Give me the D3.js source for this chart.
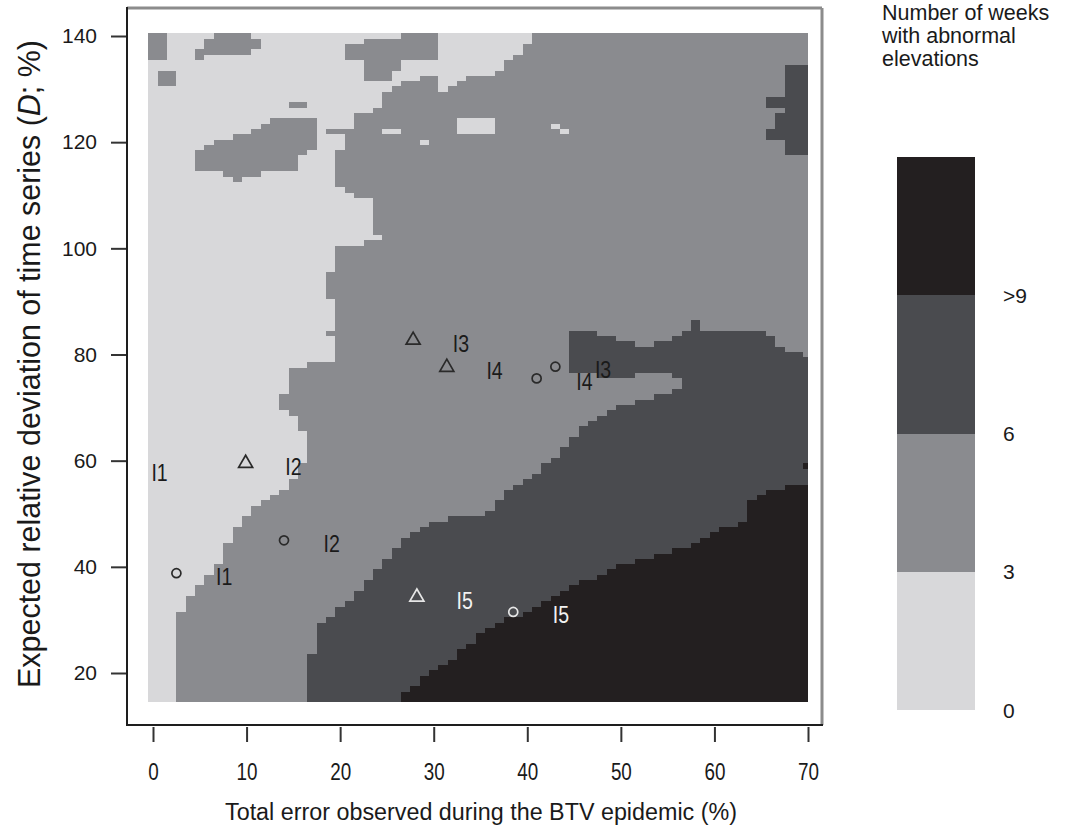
<!DOCTYPE html>
<html>
<head>
<meta charset="utf-8">
<script src="https://cdn.jsdelivr.net/npm/d3@7"></script>
<style>
  body { margin: 0; background: #fff; }
  svg { display: block; }
  text { font-family: "Liberation Sans", Arial, Helvetica, sans-serif; fill: #1a1a1a; }
</style>
</head>
<body>
<svg id="chart" width="1078" height="830"></svg>
<script>
// ---- axis ticks and grid -------------------------------------------------
const xTicks = [0, 10, 20, 30, 40, 50, 60, 70];
const yTicks = [20, 40, 60, 80, 100, 120, 140];
const columnCentres = d3.range(0, 71);   // total error, %  (cells 1 unit wide)
const rowCentres = d3.range(15, 141);    // expected deviation D, % (cells 1 unit tall)

// ---- legend ---------------------------------------------------------------
const levels = [0, 1, 2, 3];
const legendLabels = ["0", "3", "6", ">9"];

// ---- region outlines (data units: [total error, D]) -----------------------
// everything inside has at least 3 weeks with abnormal elevations
const level1Outline = [
  [2.6,14],[2.6,31],[3.6,33],[4.5,35.3],[5.7,37.5],[7.5,42],[8.5,46],[9.7,49.4],
  [11.1,51.3],[12.5,52.6],[14.3,55.1],[15.4,57.6],[16.2,60.7],[16.2,65.1],[15.5,67],
  [14.6,68.9],[13.6,69.5],[14.4,75.2],[14.6,77],[17.5,78.3],[20,78.9],[20,81.4],
  [18.9,83.3],[19.3,89.6],[18.6,90.8],[18.5,94],[19.3,96.5],[19.4,100.3],[24.6,101.6],
  [23.4,102.8],[23.2,109.1],[20.7,110.4],[19.4,111.6],[19.4,117.3],[20.3,118.5],
  [20.3,121],[18.5,121.7],[18.5,122.6],[21.8,122.9],[21.8,125.7],[24.6,126.1],
  [24.6,129.2],[26,130.5],[27.1,131.1],[28.5,132],[29.6,132.7],[30.3,131.7],
  [30.7,129.2],[32.4,130.5],[33.4,131.4],[34.6,132.7],[36.4,132.3],[37.4,134.2],
  [38.5,136.1],[39.6,138],[40.6,139.9],[41.4,141],[71,141],[71,14]
];
// isolated 3-6 week patches inside the 0-3 zone
const level1Patches = [
  [[-0.6,135.5],[1.5,135.5],[1.5,141],[-0.6,141]],
  [[0.5,130.5],[2.5,130.5],[2.5,133.5],[0.5,133.5]],
  [[6.5,141],[10.5,141],[10.5,139.5],[11.5,139.5],[11.5,137.5],[10.5,137.5],[10.5,136.5],
   [5.5,136.5],[5.5,135.5],[4.5,135.5],[4.5,137.5],[5.5,137.5],[5.5,139.5],[6.5,139.5]],
  [[26.5,141],[30.5,141],[30.5,135.5],[26.5,135.5],[26.5,133.5],[25.5,133.5],[25.5,131.5],
   [22.5,131.5],[22.5,135.5],[20.5,135.5],[20.5,138.5],[22.5,138.5],[22.5,139.5],[26.5,139.5]],
  [[12.5,124.5],[17.5,124.5],[17.5,118.5],[16.5,118.5],[16.5,117.5],[15.5,117.5],[15.5,114.5],
   [11.5,114.5],[11.5,113.5],[9.5,113.5],[9.5,112.5],[8.5,112.5],[8.5,113.5],[7.5,113.5],
   [7.5,114.5],[4.5,114.5],[4.5,118.5],[5.5,118.5],[5.5,119.5],[6.5,119.5],[6.5,120.5],
   [8.5,120.5],[8.5,121.5],[10.5,121.5],[10.5,122.5],[11.5,122.5],[11.5,123.5],[12.5,123.5]],
  [[14.5,126.5],[16.5,126.5],[16.5,127.5],[14.5,127.5]]
];
// isolated 0-3 week cells inside the 3-6 zone
const level0Patches = [
  [[24.5,121.5],[26.5,121.5],[26.5,122.5],[24.5,122.5]],
  [[28.5,119.5],[29.5,119.5],[29.5,120.5],[28.5,120.5]],
  [[32.5,121.5],[36.5,121.5],[36.5,124.5],[32.5,124.5]],
  [[42.5,122.5],[43.5,122.5],[43.5,123.5],[42.5,123.5]],
  [[43.5,121.5],[44.5,121.5],[44.5,122.5],[43.5,122.5]]
];
// 6-9 weeks
const level2Outline = [
  [16.3,14],[16.3,22.5],[17.3,23.7],[17.5,28],[18.5,30],[19.3,31.2],[20.5,33],[21.8,35],
  [23,37.5],[24.6,41.3],[26.4,43.5],[27.1,45.7],[28.5,47],[30.3,48.8],[33,49.2],[35,49.6],
  [36,50.7],[37.2,53],[38.5,55.1],[40,56.5],[41.7,58.6],[43.2,61],[44.6,63.3],[45.3,65.8],
  [47,67.7],[48.5,68.9],[50,70.2],[52,71],[54,72],[56.3,73.3],[56.6,75.6],[53.5,76.6],
  [50.5,75.6],[48.6,75.4],[46.6,76.4],[44.4,76.4],[44.4,84.6],[46.4,84.6],[48.6,83.6],
  [50.4,82.6],[52.6,81.6],[55.4,82.4],[57.4,84.4],[57.4,86.6],[58.4,86.6],[58.4,84.4],
  [65.5,84.4],[66.4,82.7],[68,80.8],[70,79.3],[71,79],[71,14]
];
const level2Patches = [
  [[67.5,134.5],[71,134.5],[71,117.5],[67.5,117.5],[67.5,120.5],[65.5,120.5],[65.5,122.5],
   [66.5,122.5],[66.5,125.5],[67.5,125.5],[67.5,126.5],[65.5,126.5],[65.5,128.5],[67.5,128.5]]
];
// more than 9 weeks
const level3Outline = [
  [26.4,14],[26.4,16],[27.5,17],[28.5,18.5],[30,20],[31,21.5],[32,22.5],[33,24],[34,25.5],
  [35,27],[36,28.1],[38,30],[40,31.5],[42.4,33.7],[44,35.5],[46,37.2],[48,38.5],[50,40],
  [51.3,41],[54.2,42.6],[57,43.8],[58.5,44.5],[59.9,46.3],[61.5,47.5],[63,48.8],[63.6,51],
  [64.1,53.2],[66,54],[68,55],[70,55.8],[71,56],[71,14]
];
const level3Patches = [
  [[69.5,58.5],[71,58.5],[71,59.5],[69.5,59.5]]
];

// ---- surveillance scenarios ---------------------------------------------
const triangleIds = ["I1", "I2", "I3", "I4", "I5"];
const triangleX = [-4.4, 9.9, 27.8, 31.4, 28.2];
const triangleY = [58.4, 59.5, 82.7, 77.6, 34.3];
const circleIds = ["I1", "I2", "I4", "I3", "I5"];
const circleX = [2.5, 14.0, 41.0, 43.0, 38.5];
const circleY = [38.8, 45.0, 75.5, 77.7, 31.5];

// ---- styling ---------------------------------------------------------------
const levelColours = ["#d8d8da", "#8a8b8f", "#4a4b4f", "#231f20"];
const frame = { left: 127, right: 822, top: 8, bottom: 725 };
const labelShift = [5.1, -0.6];   // scenario label offset from its marker, data units

const svg = d3.select("#chart");
const x = d3.scaleLinear().domain([0, 70]).range([153, 808]);
const y = d3.scaleLinear().domain([20, 140]).range([673, 36]);

function levelAt(px, py) {
  const p = [px, py];
  const inside = poly => d3.polygonContains(poly, p);
  let lv = 0;
  if (inside(level1Outline)) lv = 1;
  if (level1Patches.some(inside)) lv = 1;
  if (level0Patches.some(inside)) lv = 0;
  if (inside(level2Outline)) lv = 2;
  if (level2Patches.some(inside)) lv = 2;
  if (inside(level3Outline)) lv = 3;
  if (level3Patches.some(inside)) lv = 3;
  return lv;
}

// ---- raster: merge each row into runs of equal level ----------------------
const runs = [];
rowCentres.forEach(r => {
  let start = columnCentres[0], cur = levelAt(start, r);
  for (let i = 1; i <= columnCentres.length; i++) {
    const c = columnCentres[i];
    const lv = i < columnCentres.length ? levelAt(c, r) : -1;
    if (lv !== cur) {
      runs.push({ x0: start - 0.5, x1: Math.min(columnCentres[i - 1] + 0.5, 70), row: r, level: cur });
      start = c; cur = lv;
    }
  }
});

svg.append("g").attr("shape-rendering", "crispEdges")
  .selectAll("rect").data(runs).join("rect")
  .attr("x", d => Math.round(x(d.x0)))
  .attr("width", d => Math.round(x(d.x1)) - Math.round(x(d.x0)))
  .attr("y", d => Math.round(y(d.row + 0.5)))
  .attr("height", d => Math.round(y(d.row - 0.5)) - Math.round(y(d.row + 0.5)))
  .attr("fill", d => levelColours[d.level]);

// ---- frame ----------------------------------------------------------------
const fr = svg.append("g").attr("fill", "none");
fr.append("line").attr("x1", frame.left).attr("x2", frame.right).attr("y1", frame.top).attr("y2", frame.top)
  .attr("stroke", "#8c8c8c").attr("stroke-width", 3);
fr.append("line").attr("x1", frame.right).attr("x2", frame.right).attr("y1", frame.top).attr("y2", frame.bottom)
  .attr("stroke", "#8c8c8c").attr("stroke-width", 3);
fr.append("line").attr("x1", frame.left).attr("x2", frame.left).attr("y1", frame.top - 1).attr("y2", frame.bottom + 1)
  .attr("stroke", "#1e1e1e").attr("stroke-width", 2);
fr.append("line").attr("x1", frame.left - 1).attr("x2", frame.right + 1).attr("y1", frame.bottom).attr("y2", frame.bottom)
  .attr("stroke", "#1e1e1e").attr("stroke-width", 2);

// ---- axes -----------------------------------------------------------------
const xAxis = svg.append("g").attr("transform", `translate(0,${frame.bottom + 2})`)
  .call(d3.axisBottom(x).tickValues(xTicks).tickSize(15).tickPadding(22).tickFormat(d3.format("d")));
xAxis.select(".domain").remove();
xAxis.selectAll(".tick line").attr("stroke", "#333").attr("stroke-width", 2);
xAxis.selectAll(".tick text").attr("font-size", 23).attr("fill", "#1a1a1a")
  .attr("font-family", "'Liberation Sans', Arial, sans-serif")
  .attr("transform", "scale(0.82,1)")
  .attr("x", 0);

const yAxis = svg.append("g").attr("transform", `translate(${frame.left - 1},0)`)
  .call(d3.axisLeft(y).tickValues(yTicks).tickSize(15).tickPadding(14).tickFormat(d3.format("d")));
yAxis.select(".domain").remove();
yAxis.selectAll(".tick line").attr("stroke", "#333").attr("stroke-width", 2);
yAxis.selectAll(".tick text").attr("font-size", 21).attr("fill", "#1a1a1a")
  .attr("font-family", "'Liberation Sans', Arial, sans-serif");

// axis titles
svg.append("text")
  .attr("x", 481).attr("y", 820).attr("text-anchor", "middle")
  .attr("font-size", 23).attr("textLength", 512).attr("lengthAdjust", "spacingAndGlyphs")
  .text("Total error observed during the BTV epidemic (%)");

const yTitle = svg.append("text")
  .attr("transform", "translate(40,364) rotate(-90)")
  .attr("text-anchor", "middle").attr("font-size", 22);
yTitle.append("tspan").text("Expected relative deviation of time series (");
yTitle.append("tspan").attr("font-style", "italic").text("D");
yTitle.append("tspan").text("; %)");
const natural = yTitle.node().getComputedTextLength();
yTitle.attr("font-size", 22 * 648 / natural);

// ---- scenario markers and labels ----------------------------------------
svg.append("clipPath").attr("id", "plot-clip").append("rect")
  .attr("x", frame.left).attr("y", frame.top)
  .attr("width", frame.right - frame.left).attr("height", frame.bottom - frame.top);

const markers = [
  ...triangleIds.map((id, i) => ({ id, shape: d3.symbolTriangle, size: 85, x: triangleX[i], y: triangleY[i] })),
  ...circleIds.map((id, i) => ({ id, shape: d3.symbolCircle, size: 64, x: circleX[i], y: circleY[i] }))
];
markers.forEach(m => { m.light = levelAt(Math.round(m.x), Math.round(m.y)) >= 2; });

const mk = svg.append("g").attr("clip-path", "url(#plot-clip)");
mk.selectAll("path").data(markers).join("path")
  .attr("transform", d => `translate(${x(d.x)},${y(d.y)})`)
  .attr("d", d => d3.symbol(d.shape, d.size)())
  .attr("fill", "none")
  .attr("stroke", d => d.light ? "#e6e6e6" : "#2a2a2a")
  .attr("stroke-width", 1.7);

mk.selectAll("text").data(markers).join("text")
  .attr("transform", d => `translate(${x(d.x + labelShift[0])},${y(d.y + labelShift[1])}) scale(0.85,1)`)
  .attr("text-anchor", "middle").attr("dy", "0.36em")
  .attr("font-size", 23)
  .style("fill", d => d.light ? "#f2f2f2" : "#1a1a1a")
  .text(d => d.id);

// ---- legend ----------------------------------------------------------------
const lg = svg.append("g");
["Number of weeks", "with abnormal", "elevations"].forEach((t, i) => {
  lg.append("text").attr("x", 882).attr("y", 20 + i * 23).attr("font-size", 21.5).text(t);
});
const band = d3.scaleBand().domain([3, 2, 1, 0]).range([157, 710]);
lg.append("g").attr("shape-rendering", "crispEdges")
  .selectAll("rect").data(levels).join("rect")
  .attr("x", 897).attr("width", 78)
  .attr("y", d => Math.round(band(d)))
  .attr("height", d => Math.round(band(d) + band.bandwidth()) - Math.round(band(d)))
  .attr("fill", d => levelColours[d]);
lg.selectAll("text.lab").data(levels).join("text").attr("class", "lab")
  .attr("x", 1003).attr("y", d => band(d) + band.bandwidth())
  .attr("dy", "0.36em").attr("font-size", 21)
  .text(d => legendLabels[d]);
</script>
</body>
</html>
